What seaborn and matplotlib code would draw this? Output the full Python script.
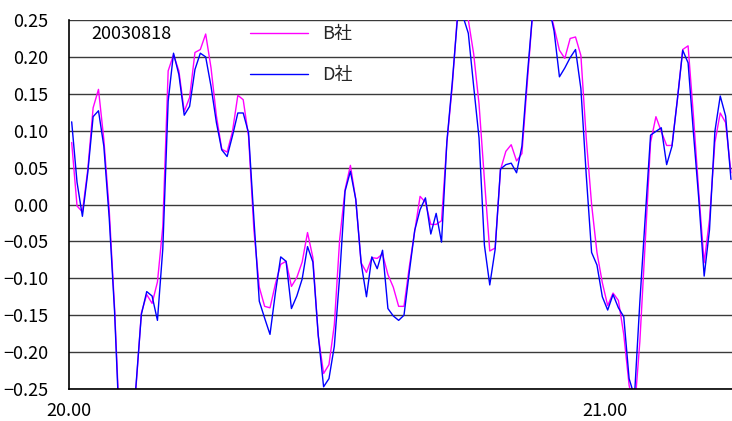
import numpy as np
import pandas as pd
import matplotlib
matplotlib.use("Agg")
import matplotlib.pyplot as plt
import seaborn as sns
from matplotlib.ticker import FixedLocator, FixedFormatter

# Session date and series names
date_label = "20030818"
series_names = ["B社", "D社"]
series_colors = ["#FF00FF", "#0000FF"]

# Sampling: one value every 0.01 starting at 20.00 (values sit mid-interval)
start_time = 20.0
time_step = 0.01

b_values = [
    0.084, -0.002, -0.010, 0.047, 0.131, 0.156, 0.088, -0.007, -0.140, -0.310,
    -0.350, -0.330, -0.248, -0.147, -0.122, -0.134, -0.105, -0.030, 0.181, 0.203,
    0.181, 0.126, 0.145, 0.206, 0.210, 0.231, 0.185, 0.120, 0.075, 0.071,
    0.099, 0.148, 0.142, 0.092, -0.035, -0.112, -0.138, -0.140, -0.108, -0.081,
    -0.077, -0.111, -0.099, -0.078, -0.038, -0.072, -0.178, -0.229, -0.217, -0.163,
    -0.047, 0.020, 0.053, 0.007, -0.079, -0.092, -0.072, -0.073, -0.067, -0.095,
    -0.112, -0.138, -0.138, -0.084, -0.036, 0.011, 0.003, -0.027, -0.027, -0.022,
    0.084, 0.160, 0.260, 0.270, 0.250, 0.204, 0.136, 0.034, -0.063, -0.059,
    0.047, 0.072, 0.081, 0.059, 0.069, 0.165, 0.260, 0.300, 0.300, 0.270,
    0.240, 0.209, 0.198, 0.225, 0.227, 0.202, 0.090, 0.000, -0.065, -0.106,
    -0.137, -0.120, -0.130, -0.176, -0.245, -0.280, -0.186, -0.052, 0.084, 0.119,
    0.099, 0.080, 0.080, 0.142, 0.210, 0.215, 0.120, 0.016, -0.079, -0.020,
    0.084, 0.124, 0.111, 0.043,
]

d_values = [
    0.112, 0.030, -0.016, 0.043, 0.119, 0.127, 0.079, -0.018, -0.145, -0.320,
    -0.350, -0.330, -0.245, -0.149, -0.118, -0.124, -0.157, -0.060, 0.140, 0.205,
    0.176, 0.121, 0.133, 0.183, 0.205, 0.200, 0.160, 0.111, 0.074, 0.065,
    0.093, 0.124, 0.124, 0.097, -0.020, -0.131, -0.154, -0.176, -0.120, -0.071,
    -0.077, -0.141, -0.124, -0.101, -0.057, -0.078, -0.177, -0.247, -0.236, -0.192,
    -0.097, 0.018, 0.045, 0.007, -0.079, -0.125, -0.071, -0.087, -0.062, -0.141,
    -0.151, -0.157, -0.150, -0.091, -0.035, -0.007, 0.009, -0.040, -0.012, -0.051,
    0.085, 0.165, 0.255, 0.255, 0.232, 0.160, 0.090, -0.055, -0.109, -0.061,
    0.048, 0.054, 0.056, 0.043, 0.079, 0.174, 0.260, 0.300, 0.300, 0.270,
    0.235, 0.173, 0.185, 0.199, 0.210, 0.157, 0.040, -0.065, -0.082, -0.125,
    -0.143, -0.122, -0.140, -0.152, -0.236, -0.260, -0.132, -0.018, 0.094, 0.099,
    0.104, 0.054, 0.079, 0.142, 0.209, 0.192, 0.097, 0.007, -0.097, -0.034,
    0.099, 0.147, 0.120, 0.034,
]

y_ticks = [-0.25, -0.20, -0.15, -0.10, -0.05, 0.00, 0.05, 0.10, 0.15, 0.20, 0.25]
x_ticks = [20.0, 20.1, 20.2, 20.3, 20.4, 20.5, 20.6, 20.7, 20.8, 20.9, 21.0, 21.1, 21.2]
x_tick_labels = ["20.00", "", "", "", "", "", "", "", "", "", "21.00", "", ""]

sns.set_theme(style="white")
plt.rcParams["font.family"] = ["Noto Sans CJK JP", "DejaVu Sans"]
plt.rcParams["axes.unicode_minus"] = True

n = len(b_values)
times = start_time + time_step * (np.arange(n) + 0.5)
df = pd.DataFrame({
    "time": np.concatenate([times, times]),
    "value": np.array(b_values + d_values),
    "company": [series_names[0]] * n + [series_names[1]] * n,
})

fig = plt.figure(figsize=(7.32, 4.21), dpi=100)
ax = fig.add_axes([69 / 732, 1 - 389 / 421, (732 - 69) / 732, (389 - 20) / 421])

sns.lineplot(
    data=df, x="time", y="value", hue="company",
    hue_order=series_names,
    palette=dict(zip(series_names, series_colors)),
    linewidth=1.0, ax=ax, legend=True,
)

ax.set_xlim(20.0, 20.0 + (732 - 69) / 536)
ax.set_ylim(-0.25, 0.25)
ax.set_xlabel("")
ax.set_ylabel("")

ax.yaxis.set_major_locator(FixedLocator(y_ticks))
ax.yaxis.set_major_formatter(FixedFormatter([f"{v:.2f}".replace("-", "\u2212") for v in y_ticks]))
ax.xaxis.set_major_locator(FixedLocator(x_ticks))
ax.xaxis.set_major_formatter(FixedFormatter(x_tick_labels))

ax.grid(axis="y", color="#3a3a3a", linewidth=1.0)
ax.grid(axis="x", visible=False)
ax.set_axisbelow(True)

for side in ["top", "right"]:
    ax.spines[side].set_visible(False)
for side in ["left", "bottom"]:
    ax.spines[side].set_visible(True)
    ax.spines[side].set_color("black")
    ax.spines[side].set_linewidth(1.2)

ax.tick_params(axis="y", direction="out", length=2, width=1, color="black",
               pad=13, labelsize=13, labelcolor="black")
ax.tick_params(axis="x", direction="in", length=5, width=1, color="black",
               pad=9, labelsize=13, labelcolor="black")

handles, labels = ax.get_legend_handles_labels()
ax.legend(handles, labels, frameon=False, loc="upper left",
          bbox_to_anchor=((250 - 69) / 663, (389 - 25) / 369),
          borderaxespad=0, borderpad=0, handlelength=3.2, handletextpad=0.8,
          labelspacing=1.28, fontsize=13)

fig.text(91 / 732, 1 - 34 / 421, date_label, ha="left", va="center",
         fontsize=13, color="black")

fig.savefig("out.png", dpi=100)
